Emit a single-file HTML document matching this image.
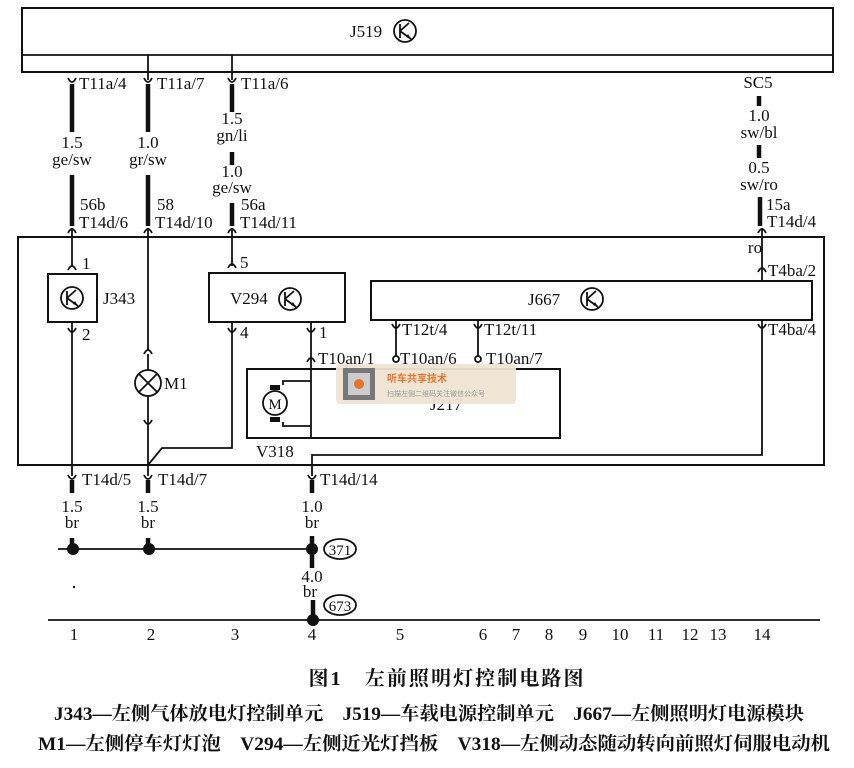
<!DOCTYPE html>
<html><head><meta charset="utf-8"><style>
body{margin:0;background:#fff;}
svg{display:block;font-family:"Liberation Serif","Noto Serif CJK SC",serif;}
.t{font-size:17px;fill:#111;}
.c{font-size:17px;fill:#111;text-anchor:middle;}
.th{stroke:#111;stroke-width:4.5;fill:none;}
.tn{stroke:#111;stroke-width:1.8;fill:none;}
.bx{stroke:#111;stroke-width:2;fill:none;}
.cn{font-family:"Liberation Serif","Noto Serif CJK SC",serif;font-size:18.5px;fill:#111;font-weight:bold;}
</style></head><body>
<svg width="854" height="768" viewBox="0 0 854 768">
<rect class="bx" x="22" y="8" width="811" height="64"/>
<line class="tn" x1="22" y1="55" x2="833" y2="55"/>
<text class="t" x="350" y="37">J519</text>
<g transform="translate(405,31)"><circle r="11" class="tn"/><path class="tn" d="M-5,-7 V7 M-5,0 L4,-8 M-5,0 L6,8"/><path d="M6,8 L1,6 L3,3Z" fill="#111"/></g>
<line class="tn" x1="148" y1="55" x2="148" y2="80"/><line class="tn" x1="232" y1="55" x2="232" y2="80"/>
<g class="tn"><path d="M68,78 Q72,86 76,78"/><path d="M144,78 Q148,86 152,78"/><path d="M228,78 Q232,86 236,78"/></g>
<text class="t" x="79" y="89">T11a/4</text><text class="t" x="157" y="89">T11a/7</text><text class="t" x="241" y="89">T11a/6</text>
<line class="th" x1="72" y1="84" x2="72" y2="132"/><line class="th" x1="72" y1="175" x2="72" y2="226"/>
<line class="th" x1="148" y1="84" x2="148" y2="132"/><line class="th" x1="148" y1="175" x2="148" y2="226"/>
<line class="th" x1="232" y1="84" x2="232" y2="112"/><line class="th" x1="232" y1="152" x2="232" y2="165"/><line class="th" x1="232" y1="203" x2="232" y2="226"/>
<text class="c" x="72" y="148">1.5</text><text class="c" x="72" y="165">ge/sw</text>
<text class="c" x="148" y="148">1.0</text><text class="c" x="148" y="165">gr/sw</text>
<text class="c" x="232" y="124">1.5</text><text class="c" x="232" y="141">gn/li</text>
<text class="c" x="232" y="177">1.0</text><text class="c" x="232" y="193">ge/sw</text>
<text class="t" x="80" y="210">56b</text><text class="t" x="79" y="228">T14d/6</text>
<text class="t" x="157" y="210">58</text><text class="t" x="155" y="228">T14d/10</text>
<text class="t" x="241" y="210">56a</text><text class="t" x="240" y="228">T14d/11</text>
<g class="tn"><path d="M68,233 Q72,225 76,233"/><path d="M144,233 Q148,225 152,233"/><path d="M228,233 Q232,225 236,233"/><path d="M758,233 Q762,225 766,233"/></g>
<text class="c" x="758" y="88">SC5</text>
<line class="th" x1="759" y1="96" x2="759" y2="106"/>
<text class="c" x="759" y="121">1.0</text><text class="c" x="759" y="138">sw/bl</text>
<line class="th" x1="759" y1="145" x2="759" y2="158"/>
<text class="c" x="759" y="173">0.5</text><text class="c" x="759" y="190">sw/ro</text>
<line class="th" x1="760" y1="197" x2="760" y2="226"/>
<text class="t" x="766" y="210">15a</text><text class="t" x="767" y="227">T14d/4</text>
<rect class="bx" x="18" y="237" width="806" height="228"/>
<line class="tn" x1="72" y1="228" x2="72" y2="266"/><line class="tn" x1="148" y1="228" x2="148" y2="350"/><line class="tn" x1="232" y1="228" x2="232" y2="266"/>
<line class="tn" x1="762" y1="228" x2="762" y2="281"/>
<text class="c" x="755" y="253">ro</text>
<path class="tn" d="M758,272 Q762,264 766,272"/><text class="t" x="768" y="276">T4ba/2</text>
<rect class="bx" x="48" y="274" width="49" height="48"/>
<path class="tn" d="M68,270 Q72,262 76,270"/><text class="t" x="82" y="269">1</text>
<g transform="translate(72,298)"><circle r="11" class="tn"/><path class="tn" d="M-5,-7 V7 M-5,0 L4,-8 M-5,0 L6,8"/><path d="M6,8 L1,6 L3,3Z" fill="#111"/></g>
<text class="t" x="103" y="304">J343</text>
<path class="tn" d="M68,328 Q72,336 76,328"/><text class="t" x="82" y="340">2</text>
<line class="tn" x1="72" y1="322" x2="72" y2="476"/>
<path class="tn" d="M144,354 Q148,346 152,354"/>
<line class="tn" x1="148" y1="354" x2="148" y2="370"/>
<circle class="tn" cx="148" cy="383" r="13"/><path class="tn" d="M139,374 L157,392 M157,374 L139,392"/>
<text class="t" x="164" y="389">M1</text>
<line class="tn" x1="148" y1="396" x2="148" y2="476"/>
<path class="tn" d="M144,420 Q148,428 152,420"/>
<path class="tn" d="M148,465 L162,448 L232,448 L232,322"/>
<rect class="bx" x="209" y="273" width="136" height="49"/>
<path class="tn" d="M228,268 Q232,260 236,268"/><text class="t" x="240" y="268">5</text>
<text class="t" x="230" y="304">V294</text>
<g transform="translate(290,299)"><circle r="11" class="tn"/><path class="tn" d="M-5,-7 V7 M-5,0 L4,-8 M-5,0 L6,8"/><path d="M6,8 L1,6 L3,3Z" fill="#111"/></g>
<path class="tn" d="M228,328 Q232,336 236,328"/><text class="t" x="240" y="338">4</text>
<path class="tn" d="M307,328 Q311,336 315,328"/><text class="t" x="319" y="338">1</text>
<line class="tn" x1="311" y1="322" x2="311" y2="438"/>
<path class="tn" d="M307,362 Q311,354 315,362"/><text class="t" x="318" y="364">T10an/1</text>
<rect class="bx" x="371" y="281" width="441" height="39"/>
<text class="t" x="528" y="305">J667</text>
<g transform="translate(592,299)"><circle r="11" class="tn"/><path class="tn" d="M-5,-7 V7 M-5,0 L4,-8 M-5,0 L6,8"/><path d="M6,8 L1,6 L3,3Z" fill="#111"/></g>
<path class="tn" d="M392,324 Q396,332 400,324"/><text class="t" x="402" y="335">T12t/4</text>
<path class="tn" d="M474,324 Q478,332 482,324"/><text class="t" x="484" y="335">T12t/11</text>
<line class="tn" x1="396" y1="320" x2="396" y2="356"/><line class="tn" x1="478" y1="320" x2="478" y2="356"/>
<circle class="tn" cx="396" cy="359" r="3"/><circle class="tn" cx="478" cy="359" r="3"/>
<text class="t" x="400" y="364">T10an/6</text><text class="t" x="486" y="364">T10an/7</text>
<path class="tn" d="M758,324 Q762,332 766,324"/><text class="t" x="768" y="335">T4ba/4</text>
<path class="tn" d="M762,320 L762,455 L312,455 L312,476"/>
<rect class="bx" x="247" y="369" width="313" height="69"/>
<path class="tn" d="M311,381 H283 V385 M311,426 H283 V422"/>
<rect x="270" y="385" width="10" height="5" fill="#111"/><rect x="270" y="417" width="10" height="5" fill="#111"/>
<circle class="tn" cx="275" cy="403" r="12"/><text class="c" x="275" y="409" style="font-size:15px">M</text>
<text class="t" x="256" y="457">V318</text>
<text class="t" x="430" y="410" fill="#555">J217</text>
<rect x="336" y="364" width="180" height="40" rx="4" fill="#efe3d3" opacity="0.95"/>
<rect x="343" y="368" width="32" height="32" fill="#777"/><rect x="348" y="373" width="22" height="22" fill="#ccc"/><circle cx="359" cy="384" r="5" fill="#e8742a"/>
<text x="387" y="382" style="font-family:'Noto Sans CJK SC',sans-serif;font-size:10px;fill:#e8742a;font-weight:bold">听车共享技术</text>
<text x="387" y="396" style="font-family:'Noto Sans CJK SC',sans-serif;font-size:7px;fill:#999">扫描左侧二维码关注微信公众号</text>
<g class="tn"><path d="M68,475 Q72,483 76,475"/><path d="M144,475 Q148,483 152,475"/><path d="M308,475 Q312,483 316,475"/></g>
<text class="t" x="82" y="485">T14d/5</text><text class="t" x="158" y="485">T14d/7</text><text class="t" x="320" y="485">T14d/14</text>
<line class="th" x1="72" y1="480" x2="72" y2="493"/><line class="th" x1="148" y1="480" x2="148" y2="493"/><line class="th" x1="312" y1="480" x2="312" y2="493"/>
<text class="c" x="72" y="512">1.5</text><text class="c" x="72" y="528">br</text>
<text class="c" x="148" y="512">1.5</text><text class="c" x="148" y="528">br</text>
<text class="c" x="312" y="512">1.0</text><text class="c" x="312" y="528">br</text>
<line class="th" x1="72" y1="538" x2="72" y2="548"/><line class="th" x1="148" y1="538" x2="148" y2="548"/><line class="th" x1="312" y1="536" x2="312" y2="568"/>
<line class="tn" x1="58" y1="549" x2="312" y2="549"/>
<circle cx="73" cy="549" r="6" fill="#111"/><circle cx="149" cy="549" r="6" fill="#111"/><circle cx="312" cy="549" r="6" fill="#111"/>
<ellipse class="tn" cx="340" cy="549" rx="16" ry="10"/><text class="c" x="340" y="555" style="font-size:15px">371</text>
<text class="c" x="312" y="582">4.0</text><text class="c" x="310" y="597">br</text>
<line class="th" x1="313" y1="600" x2="313" y2="618"/>
<ellipse class="tn" cx="340" cy="605" rx="16" ry="10"/><text class="c" x="340" y="611" style="font-size:15px">673</text>
<line class="tn" x1="48" y1="620" x2="820" y2="620"/>
<circle cx="313" cy="620" r="6" fill="#111"/>
<circle cx="74" cy="587" r="1.2" fill="#111"/>
<g class="c">
<text x="74" y="640">1</text><text x="151" y="640">2</text><text x="235" y="640">3</text><text x="312" y="640">4</text><text x="400" y="640">5</text><text x="483" y="640">6</text><text x="516" y="640">7</text><text x="549" y="640">8</text><text x="583" y="640">9</text><text x="620" y="640">10</text><text x="656" y="640">11</text><text x="690" y="640">12</text><text x="718" y="640">13</text><text x="762" y="640">14</text>
</g>
<text class="cn" x="446" y="685" text-anchor="middle" style="font-size:20px" textLength="275" lengthAdjust="spacing">图1　左前照明灯控制电路图</text>
<text class="cn" x="429" y="720" text-anchor="middle" textLength="750" lengthAdjust="spacingAndGlyphs">J343—左侧气体放电灯控制单元　J519—车载电源控制单元　J667—左侧照明灯电源模块</text>
<text class="cn" x="434" y="750" text-anchor="middle" textLength="792" lengthAdjust="spacingAndGlyphs">M1—左侧停车灯灯泡　V294—左侧近光灯挡板　V318—左侧动态随动转向前照灯伺服电动机</text>
</svg>
</body></html>
